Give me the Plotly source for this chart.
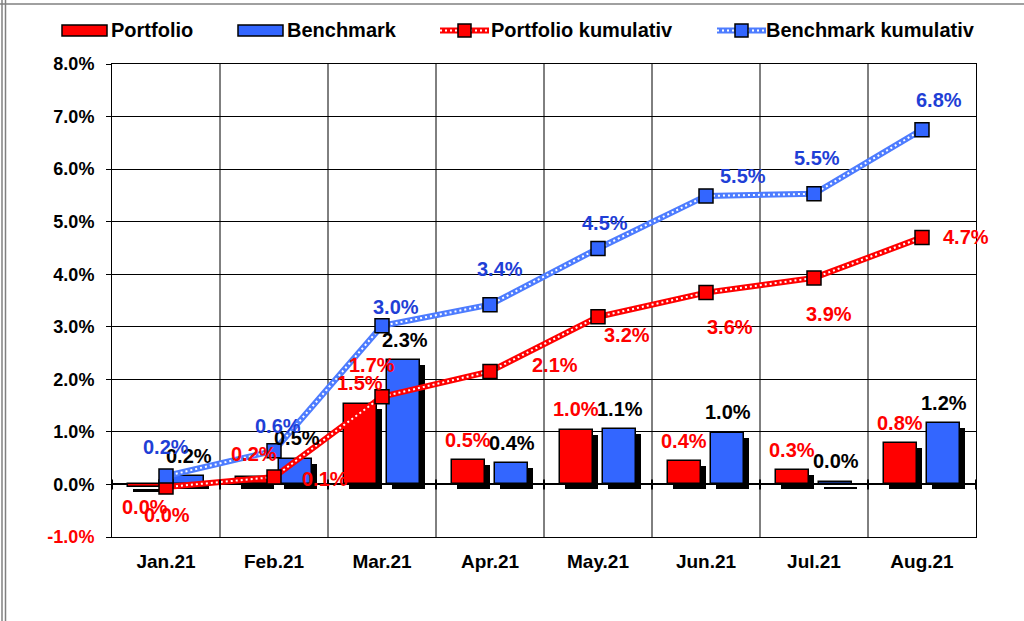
import plotly.graph_objects as go

# ---------------- data ----------------
categories = ["Jan.21", "Feb.21", "Mar.21", "Apr.21", "May.21", "Jun.21", "Jul.21", "Aug.21"]
portfolio = [-0.04, 0.15, 1.54, 0.47, 1.04, 0.44, 0.28, 0.78]
benchmark = [0.16, 0.49, 2.36, 0.40, 1.06, 0.97, 0.05, 1.17]
portfolio_cum = [-0.05, 0.14, 1.67, 2.15, 3.19, 3.65, 3.93, 4.70]
benchmark_cum = [0.16, 0.64, 3.02, 3.42, 4.49, 5.49, 5.53, 6.75]

portfolio_lbl = ["0.0%", "0.1%", "1.5%", "0.5%", "1.0%", "0.4%", "0.3%", "0.8%"]
benchmark_lbl = ["0.2%", "0.5%", "2.3%", "0.4%", "1.1%", "1.0%", "0.0%", "1.2%"]
portfolio_cum_lbl = ["0.0%", "0.2%", "1.7%", "2.1%", "3.2%", "3.6%", "3.9%", "4.7%"]
benchmark_cum_lbl = ["0.2%", "0.6%", "3.0%", "3.4%", "4.5%", "5.5%", "5.5%", "6.8%"]

y_ticks = [-1, 0, 1, 2, 3, 4, 5, 6, 7, 8]
y_tick_labels = ["-1.0%", "0.0%", "1.0%", "2.0%", "3.0%", "4.0%", "5.0%", "6.0%", "7.0%", "8.0%"]

series_names = ["Portfolio", "Benchmark", "Portfolio kumulativ", "Benchmark kumulativ"]

# ---------------- style / layout ----------------
W, H = 1024, 621
L, R, T, B = 112, 48, 64, 84
PW, PH = W - L - R, H - T - B
FONT = "Liberation Sans, Arial, sans-serif"
RED = "#FF0000"
BLUE = "#3366FF"
BLUE_LINE = "#4D7CFF"
BLUE_TXT = "#1F3FD6"
LBL_SIZE = 20

BAR_W = 0.305
BAR_OFF = 0.2
SH_X = 5 / (PW / len(categories))
SH_Y = 5 / (PH / 9)

# label pixel offsets (dx, dy-up)
pm_off = [(23, -28), (73, -2), (0, 21), (0, 20), (0, 21), (0, 20), (0, 20), (0, 20)]
bm_off = [(1, 20), (1, 21), (1, 20), (0, 20), (0, 20), (0, 21), (0, 21), (0, 20)]
pc_off = [(-21, -20), (-20, 23), (-10, 32), (65, 6), (29, -18), (24, -34), (15, -36), (44, 0)]
bc_off = [(0, 29), (4, 25), (14, 19), (10, 36), (7, 25), (37, 20), (3, 36), (17, 30)]

xi = list(range(len(categories)))
fig = go.Figure()

# shadows
for vals, off in ((portfolio, -BAR_OFF), (benchmark, BAR_OFF)):
    fig.add_trace(go.Bar(
        x=xi, y=vals, base=[-SH_Y] * len(vals), width=BAR_W,
        offset=off - BAR_W / 2 + SH_X,
        marker=dict(color="black", line=dict(width=0)),
        showlegend=False, hoverinfo="skip"))

# bars
fig.add_trace(go.Bar(
    x=xi, y=portfolio, width=BAR_W, offset=-BAR_OFF - BAR_W / 2, name=series_names[0],
    marker=dict(color=RED, line=dict(color="black", width=1.5)), showlegend=False))
fig.add_trace(go.Bar(
    x=xi, y=benchmark, width=BAR_W, offset=BAR_OFF - BAR_W / 2, name=series_names[1],
    marker=dict(color=BLUE, line=dict(color="black", width=1.5)), showlegend=False))

# cumulative lines
for vals, col, mcol, name in ((portfolio_cum, RED, RED, series_names[2]),
                              (benchmark_cum, BLUE_LINE, BLUE, series_names[3])):
    fig.add_trace(go.Scatter(
        x=xi, y=vals, mode="lines", line=dict(color=col, width=6),
        showlegend=False, hoverinfo="skip"))
    fig.add_trace(go.Scatter(
        x=xi, y=vals, mode="lines", line=dict(color="white", width=2, dash="2px,3px"),
        showlegend=False, hoverinfo="skip"))
    fig.add_trace(go.Scatter(
        x=xi, y=vals, mode="markers", name=name, showlegend=False,
        marker=dict(symbol="square", size=14, color=mcol, line=dict(color="black", width=1.5))))

# labels
ann = []
def add_labels(vals, lbls, offs, dxcat, color):
    for i, (v, t, (dx, dy)) in enumerate(zip(vals, lbls, offs)):
        ann.append(dict(x=i + dxcat, y=v, xref="x", yref="y", text=t, showarrow=False,
                        xshift=dx, yshift=dy, xanchor="center", yanchor="middle",
                        font=dict(family=FONT, size=LBL_SIZE, color=color, weight="bold")))

add_labels(portfolio, portfolio_lbl, pm_off, -BAR_OFF, RED)
add_labels(benchmark, benchmark_lbl, bm_off, BAR_OFF, "black")
add_labels(portfolio_cum, portfolio_cum_lbl, pc_off, 0, RED)
add_labels(benchmark_cum, benchmark_cum_lbl, bc_off, 0, BLUE_TXT)

def pxx(p):
    return (p - L) / PW
def pyy(p):
    return (H - B - p) / PH

# shapes: vertical grid, zero-axis ticks, frame
shapes = []
for k in range(1, len(categories)):
    shapes.append(dict(type="line", xref="x", yref="paper", x0=k - 0.5, x1=k - 0.5, y0=0, y1=1,
                       line=dict(color="black", width=1), layer="below"))
for k in range(0, len(categories) + 1):
    shapes.append(dict(type="line", xref="x", yref="y", ysizemode="pixel", yanchor=0,
                       x0=k - 0.5, x1=k - 0.5, y0=-5, y1=5, line=dict(color="black", width=2)))
for xp in (2, 5.5):
    shapes.append(dict(type="line", xref="paper", yref="paper", x0=pxx(xp), x1=pxx(xp),
                       y0=pyy(0), y1=pyy(H), line=dict(color="#808080", width=1.5)))
shapes.append(dict(type="line", xref="paper", yref="paper", x0=pxx(0), x1=pxx(W),
                   y0=pyy(4), y1=pyy(4), line=dict(color="#808080", width=1.5)))

# manual legend (pixel layout)
LEG_Y = 30.5
leg_items = [  # (kind, x_left of swatch, text_x, fill, line colour)
    ("bar", 62, 109, RED, None),
    ("bar", 238, 285, BLUE, None),
    ("line", 440, 489, RED, RED),
    ("line", 717, 764, BLUE, BLUE_LINE),
]
for (kind, x0, tx, fill, lcol), name in zip(leg_items, series_names):
    if kind == "bar":
        shapes.append(dict(type="rect", xref="paper", yref="paper",
                           x0=pxx(x0), x1=pxx(x0 + 45), y0=pyy(LEG_Y - 5.5), y1=pyy(LEG_Y + 5.5),
                           fillcolor=fill, line=dict(color="black", width=1.5)))
    else:
        shapes.append(dict(type="line", xref="paper", yref="paper",
                           x0=pxx(x0), x1=pxx(x0 + 49), y0=pyy(LEG_Y), y1=pyy(LEG_Y),
                           line=dict(color=lcol, width=6)))
        shapes.append(dict(type="line", xref="paper", yref="paper",
                           x0=pxx(x0), x1=pxx(x0 + 49), y0=pyy(LEG_Y), y1=pyy(LEG_Y),
                           line=dict(color="white", width=2, dash="2px,3px")))
        shapes.append(dict(type="rect", xref="paper", yref="paper",
                           x0=pxx(x0 + 18), x1=pxx(x0 + 31), y0=pyy(LEG_Y - 6.5), y1=pyy(LEG_Y + 6.5),
                           fillcolor=fill, line=dict(color="black", width=1.5)))
    ann.append(dict(x=pxx(tx), y=pyy(LEG_Y), xref="paper", yref="paper", text=name,
                    showarrow=False, xanchor="left", yanchor="middle",
                    font=dict(family=FONT, size=20, color="black", weight="bold")))

ytext = [f'<span style="color:{RED}">{t}</span>' if v < 0 else t for v, t in zip(y_ticks, y_tick_labels)]

fig.update_layout(
    width=W, height=H, margin=dict(l=L, r=R, t=T, b=B, autoexpand=False),
    paper_bgcolor="white", plot_bgcolor="white",
    barmode="overlay", bargap=0, showlegend=False,
    font=dict(family=FONT, size=18, color="black"),
    shapes=shapes, annotations=ann,
    xaxis=dict(range=[-0.5, len(categories) - 0.5], tickvals=xi, ticktext=categories,
               showgrid=False, zeroline=False, showline=True, mirror=True, linecolor="black",
               linewidth=1, ticks="", ticklabelstandoff=7, automargin=False,
               tickfont=dict(family=FONT, size=19, color="black", weight="bold")),
    yaxis=dict(range=[-1, 8], tickvals=y_ticks, ticktext=ytext, showgrid=True,
               gridcolor="black", gridwidth=1, zeroline=True, zerolinecolor="black",
               zerolinewidth=2, showline=True, mirror=True, linecolor="black", linewidth=1,
               ticks="outside", ticklen=5, tickcolor="black", ticklabelstandoff=8,
               automargin=False,
               tickfont=dict(family=FONT, size=18, color="black", weight="bold")),
)

fig.write_html("out.html", config={"displayModeBar": False},
               post_script="document.body.style.margin='0';document.body.style.overflow='hidden';")
